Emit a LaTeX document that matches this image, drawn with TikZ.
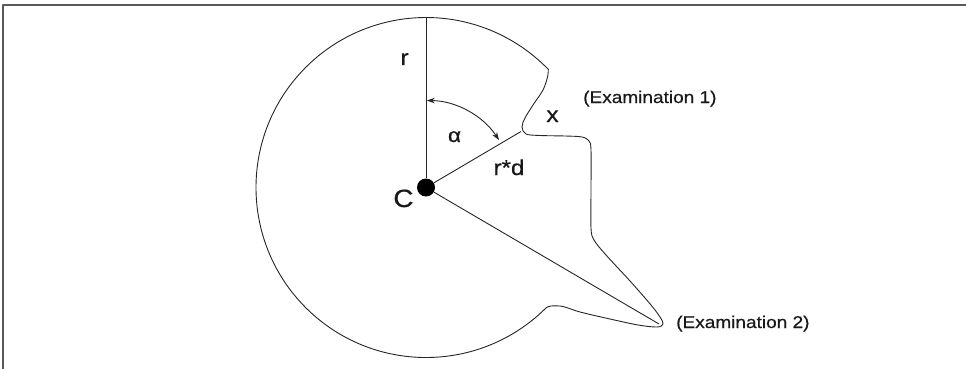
\documentclass[tikz,border=0pt]{standalone}
\usepackage{fontspec}
\setmainfont{Liberation Sans}[FakeStretch=1.12,FakeBold=0.6]
\usetikzlibrary{arrows.meta,calc}
\begin{document}
\begin{tikzpicture}[x=1pt,y=-1pt,line join=round,
  outline/.style={line width=0.9pt,draw=black!85},
  lbl/.style={inner sep=0pt,anchor=base,text=black!90},
  tipa/.tip={Stealth[length=8pt,width=5.5pt]}]
\useasboundingbox (0,0) rectangle (966,369);
% frame (top and left edges only)
\draw[black!65,line width=1.6pt] (3,369) -- (3,5) -- (966,5);
% centre
\node[circle,fill=black,minimum size=18pt,inner sep=0pt] (C) at (426,187.5) {};
\coordinate (top) at (426,17);
\coordinate (notch) at (521,131.5);
\coordinate (tip) at (659,324);
% outline
\draw[outline] ($(C.center)+(315:170pt)$) arc[start angle=315,end angle=44,radius=170pt]
  -- plot[smooth,tension=0.55] coordinates {(548.3,69.4) (547.5,77) (543,90) (533,105) (525,118) (522,127) (526,134) (540,135.5) (565,136) (582,137) (589,141) (591,150) (591,190) (591,228) (594,240) (606,255) (630,281) (651,305) (660,317) (663,324) (657,327) (638,325) (610,319) (580,312) (563,306.5) (551,306) (546.2,307.7)}
  -- cycle;
% radii
\draw[outline] (C) -- (top);
\draw[outline] (C) -- (notch);
\draw[outline] (C) -- (tip);
% angle
\draw[outline,{tipa}-{tipa}] ($(C.center)+(89.5:87pt)$) arc[start angle=89.5,end angle=33,radius=87pt];
% labels
\node[lbl,font=\fontsize{22pt}{24pt}\selectfont] (lr) at (404.5,65) {r};
\node[lbl,font=\fontsize{25pt}{27pt}\selectfont] (lC) at (403.5,207) {C};
\node[lbl,font=\fontsize{20pt}{22pt}\selectfont] (la) at (454.5,142) {α};
\node[lbl,font=\fontsize{22pt}{24pt}\selectfont] (lx) at (552.5,122) {x};
\node[lbl,font=\fontsize{21.5pt}{23pt}\selectfont] (lrd) at (509,175) {r*d};
\node[lbl,anchor=base west,font=\fontsize{17pt}{19pt}\selectfont] (e1) at (583,103) {(Examination 1)};
\node[lbl,anchor=base west,font=\fontsize{17pt}{19pt}\selectfont] (e2) at (676,328) {(Examination 2)};
\end{tikzpicture}
\end{document}
